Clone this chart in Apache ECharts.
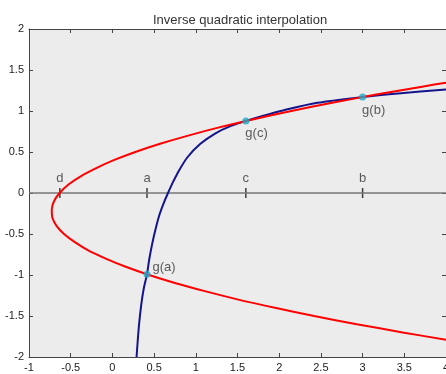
<!DOCTYPE html>
<html>
<head>
<meta charset="utf-8">
<script src="https://cdn.jsdelivr.net/npm/echarts@6/dist/echarts.min.js"></script>
<style>
  html, body { margin: 0; padding: 0; background: #fff; }
  #chart { width: 446px; height: 374px; }
</style>
</head>
<body>
<div id="chart"></div>
<script>
// blue curve y = f(x)
var blueX = [0.29, 0.30, 0.32, 0.346, 0.375, 0.415, 0.44, 0.475, 0.52, 0.566, 0.62, 0.667, 0.72, 0.775, 0.895, 1.055, 1.236, 1.416, 1.6, 1.8, 2.057, 2.458, 3.0, 3.459, 4.0];
var blueY = [-2.0, -1.85, -1.6, -1.36, -1.17, -0.99, -0.82, -0.63, -0.43, -0.26, -0.11, 0, 0.12, 0.23, 0.43, 0.6, 0.728, 0.815, 0.878, 0.94, 1.01, 1.1, 1.17, 1.216, 1.262];

// red sideways parabola x = p(y)
var redY = [-1.79, -1.7, -1.6, -1.5, -1.4, -1.3, -1.2, -1.1, -1.0, -0.9, -0.8, -0.7, -0.6, -0.5, -0.4, -0.3, -0.2, -0.1, 0, 0.1, 0.2, 0.3, 0.4, 0.5, 0.6, 0.7, 0.8, 0.9, 1.0, 1.1, 1.2, 1.3, 1.35];
var redX = [4.0, 3.48, 2.93, 2.42, 1.95, 1.51, 1.12, 0.76, 0.44, 0.16, -0.08, -0.29, -0.45, -0.58, -0.67, -0.72, -0.727, -0.70, -0.633, -0.53, -0.385, -0.20, 0.016, 0.275, 0.572, 0.908, 1.28, 1.695, 2.146, 2.635, 3.164, 3.73, 4.03];

// points on the x axis
var axisNames = ['d', 'a', 'c', 'b'];
var axisX = [-0.63, 0.415, 1.6, 3.0];

// g points
var gNames = ['g(a)', 'g(c)', 'g(b)'];
var gX = [0.415, 1.6, 3.0];
var gY = [-0.99, 0.878, 1.17];

var myChart = echarts.init(document.getElementById('chart'));

var tickLabel = { fontSize: 11, color: '#222', fontFamily: 'Liberation Sans' };
var line = { onZero: false, lineStyle: { color: '#444', width: 1 } };
var tick = { show: true, inside: true, length: 4, lineStyle: { color: '#444' } };

var gOffsets = [[2, -7], [-4, 12], [-4, 13]];

var option = {
    animation: false,
    title: {
        text: 'Inverse quadratic interpolation',
        left: 148,
        top: 9,
        textStyle: { fontSize: 13, fontWeight: 'normal', color: '#333', fontFamily: 'Liberation Sans' }
    },
    grid: {
        left: 29, right: 0, top: 29, bottom: 17,
        outerBoundsMode: 'none',
        containLabel: false,
        show: true, backgroundColor: '#ececec', borderWidth: 0
    },
    xAxis: [
        { type: 'value', min: -1, max: 4, interval: 0.5, position: 'bottom',
          axisLine: line, axisTick: tick, splitLine: { show: false },
          axisLabel: Object.assign({ margin: 5 }, tickLabel) },
        { type: 'value', min: -1, max: 4, interval: 0.5, position: 'top',
          axisLine: line, axisTick: tick, splitLine: { show: false },
          axisLabel: { show: false } }
    ],
    yAxis: [
        { type: 'value', min: -2, max: 2, interval: 0.5, position: 'left',
          axisLine: line, axisTick: tick, splitLine: { show: false },
          axisLabel: Object.assign({ margin: 5 }, tickLabel) },
        { type: 'value', min: -2, max: 2, interval: 0.5, position: 'right',
          axisLine: line, axisTick: tick, splitLine: { show: false },
          axisLabel: { show: false } }
    ],
    series: [
        {
            type: 'line',
            data: [[-1, 0], [4, 0]],
            symbol: 'none',
            lineStyle: { color: '#777', width: 1.5 },
            silent: true
        },
        {
            type: 'line',
            data: blueX.map(function (x, i) { return [x, blueY[i]]; }),
            symbol: 'none',
            smooth: 0.3,
            lineStyle: { color: '#14148c', width: 2 }
        },
        {
            type: 'line',
            data: redX.map(function (x, i) { return [x, redY[i]]; }),
            symbol: 'none',
            smooth: 0.3,
            lineStyle: { color: '#ff0000', width: 2 }
        },
        {
            type: 'scatter',
            data: axisX.map(function (x, i) { return { name: axisNames[i], value: [x, 0] }; }),
            symbol: 'rect',
            symbolSize: [1.5, 10],
            itemStyle: { color: '#111' },
            label: {
                show: true, position: 'top', distance: 3,
                formatter: '{b}', fontSize: 13, color: '#333', fontFamily: 'Liberation Sans'
            }
        },
        {
            type: 'scatter',
            data: gX.map(function (x, i) {
                return { name: gNames[i], value: [x, gY[i]], label: { offset: gOffsets[i] } };
            }),
            symbol: 'circle',
            symbolSize: 7,
            itemStyle: { color: '#22a8c8' },
            z: 5,
            label: {
                show: true, position: 'right', distance: 0,
                formatter: '{b}', fontSize: 13, color: '#333', fontFamily: 'Liberation Sans'
            }
        }
    ]
};
myChart.setOption(option);
</script>
</body>
</html>
